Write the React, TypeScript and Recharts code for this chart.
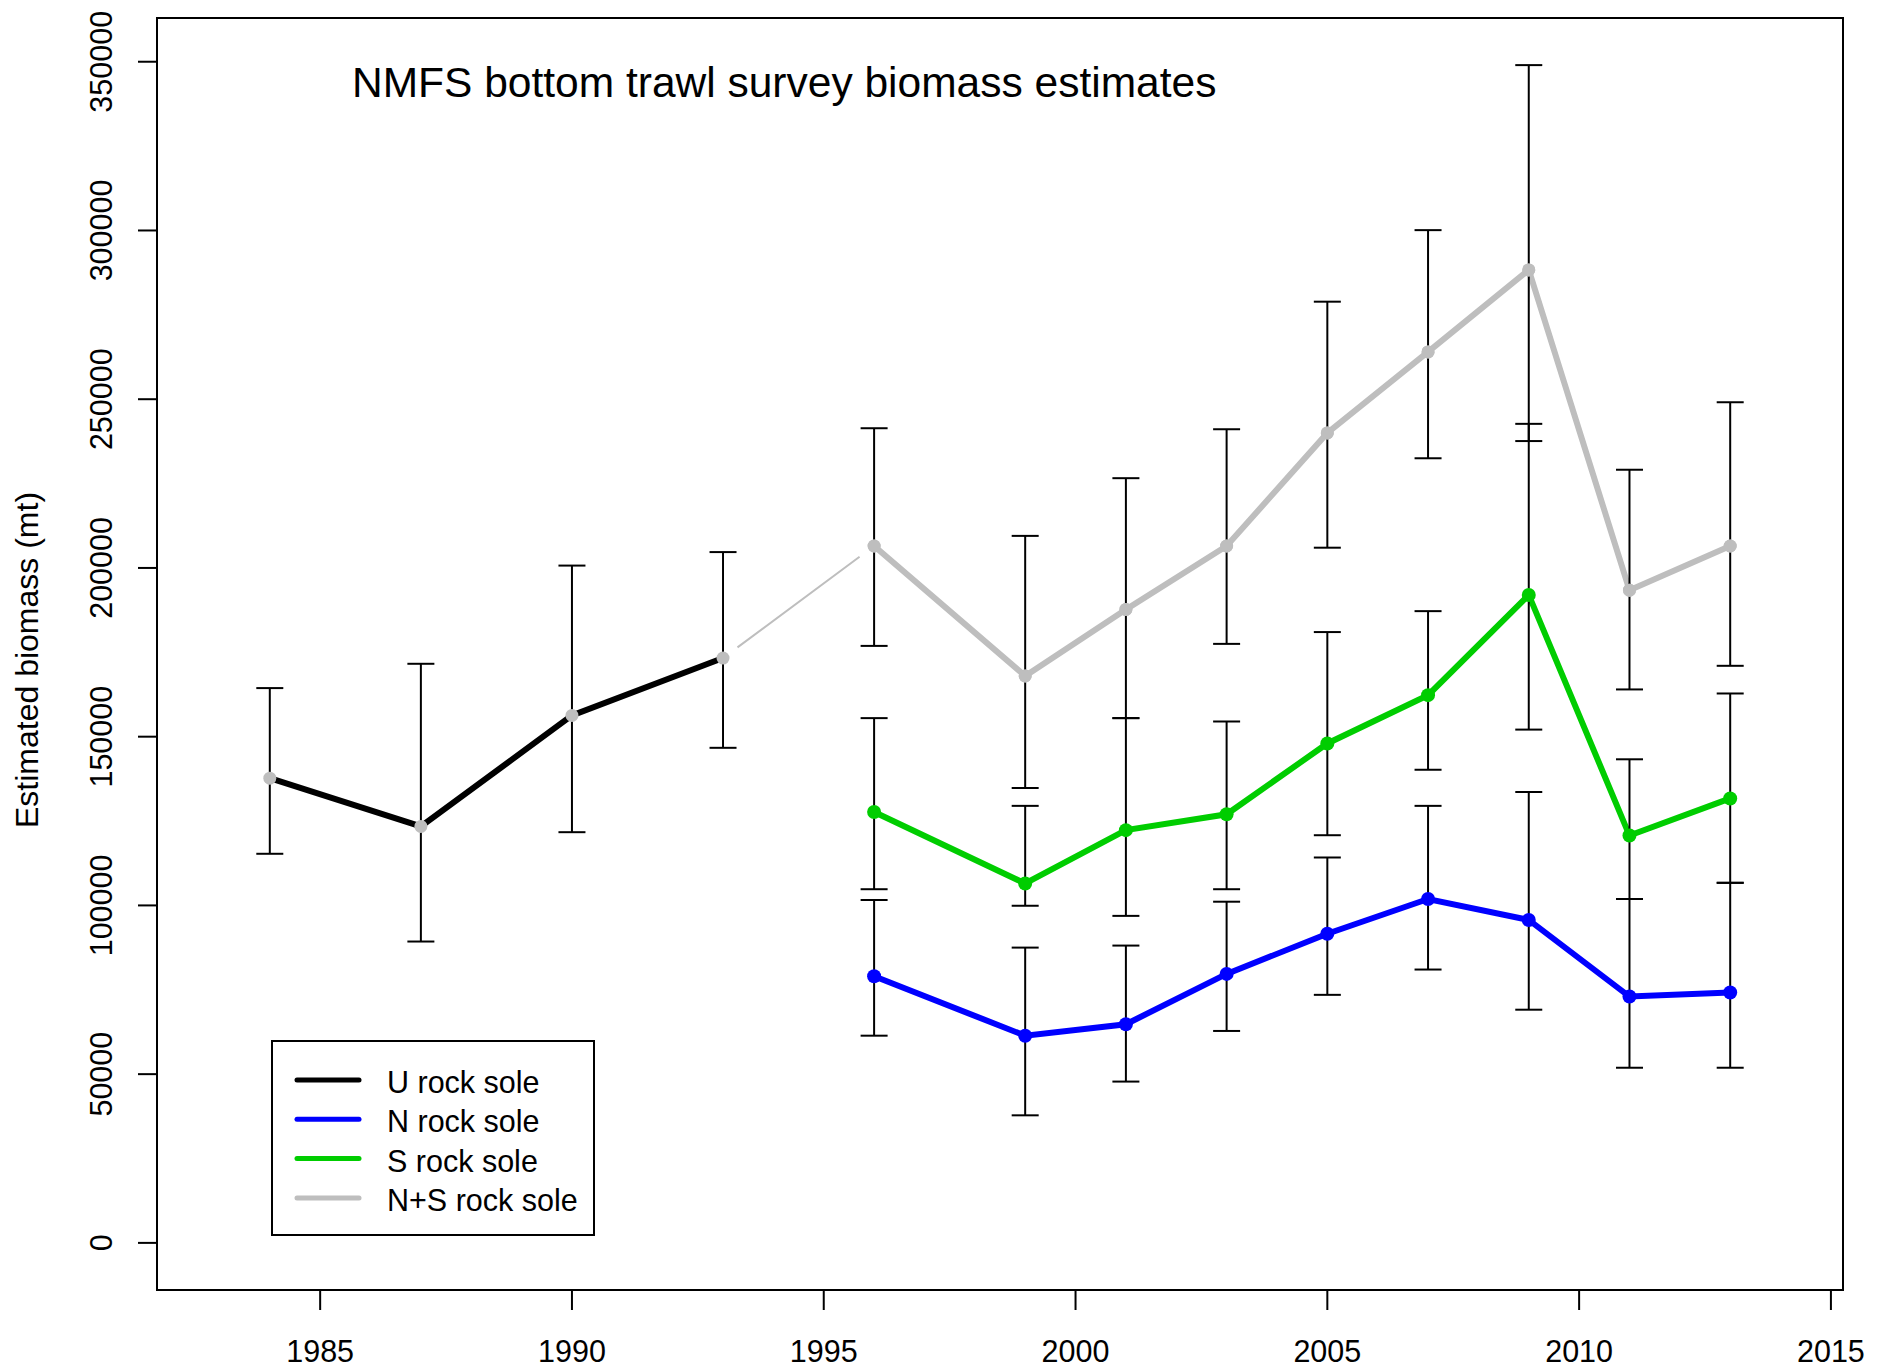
import React from 'react';
import { LineChart, Line, XAxis, YAxis, ErrorBar, ReferenceArea, Legend, Customized } from 'recharts';

// ---- data ----
const yearsU = [1984, 1987, 1990, 1993];
const valU = [137700, 123400, 156300, 173300];
const loU = [115300, 89300, 121700, 146700];
const hiU = [164400, 171600, 200700, 204700];

const yearsNS = [1996, 1999, 2001, 2003, 2005, 2007, 2009, 2011, 2013];
const valNS = [206500, 168000, 187700, 206500, 240000, 264000, 288300, 193400, 206500];
const loNS = [176900, 134800, 155500, 177500, 206000, 232500, 237600, 164000, 171000];
const hiNS = [241400, 209500, 226600, 241100, 278900, 300100, 349000, 229100, 249100];

const valS = [127700, 106500, 122300, 127000, 148000, 162300, 192000, 120700, 131700];
const loS = [104800, 99900, 96900, 104800, 120800, 140200, 152100, 101900, 106700];
const hiS = [155500, 129500, 155500, 154500, 181000, 187200, 242700, 143300, 162800];

const valN = [79000, 61400, 64800, 79700, 91600, 101900, 95700, 73000, 74200];
const loN = [61400, 37800, 47800, 62800, 73500, 81000, 69100, 51900, 51900];
const hiN = [101600, 87500, 88100, 101100, 114200, 129500, 133600, 101900, 106700];

const xTicks = [1985, 1990, 1995, 2000, 2005, 2010, 2015];
const yTicks = [0, 50000, 100000, 150000, 200000, 250000, 300000, 350000];

const legendItems = [
  { label: 'U rock sole', color: '#000000' },
  { label: 'N rock sole', color: '#0000FF' },
  { label: 'S rock sole', color: '#00CD00' },
  { label: 'N+S rock sole', color: '#BEBEBE' },
];

const build = (years: number[], v: number[], lo: number[], hi: number[]) =>
  years.map((y, i) => ({ year: y, value: v[i], err: [v[i] - lo[i], hi[i] - v[i]] }));

const dU = build(yearsU, valU, loU, hiU);
const dNS = build(yearsNS, valNS, loNS, hiNS);
const dS = build(yearsNS, valS, loS, hiS);
const dN = build(yearsNS, valN, loN, hiN);
const dAll = [...dU, ...dNS];
// thin connector between last U point and first N+S point (type "b" style, gaps at points)
const dBridge = [dU[dU.length - 1], dNS[0]];

const FONT = '"Liberation Sans", Arial, sans-serif';
const X_DOMAIN: [number, number] = [1981.76, 2015.24];
const Y_DOMAIN: [number, number] = [-13960, 362960];

const YTick = (props: any) => {
  const { x, y, payload } = props;
  return (
    <text x={x} y={y} transform={`rotate(-90 ${x} ${y})`} textAnchor="middle"
      fontFamily={FONT} fontSize={30.5} fill="#000">{payload.value}</text>
  );
};

const Texts = () => (
  <g>
    <text x={352} y={96.5} fontFamily={FONT} fontSize={42.5} fill="#000">NMFS bottom trawl survey biomass estimates</text>
    <text x={38} y={660} transform="rotate(-90 38 660)" textAnchor="middle"
      fontFamily={FONT} fontSize={32} fill="#000">Estimated biomass (mt)</text>
  </g>
);

const LegendBox = () => (
  <div style={{ width: 324, height: 196, border: '2px solid #000', boxSizing: 'border-box', background: '#fff' }}>
    <svg width={320} height={192} style={{ display: 'block' }}>
      {legendItems.map((it, i) => (
        <g key={it.label}>
          <line x1={24} x2={86} y1={38 + i * 39.3} y2={38 + i * 39.3} stroke={it.color} strokeWidth={5} strokeLinecap="round" />
          <text x={114} y={51 + i * 39.3} fontFamily={FONT} fontSize={30.5} fill="#000">{it.label}</text>
        </g>
      ))}
    </svg>
  </div>
);

export default function App() {
  return (
    <div>
      <style>{`body{margin:0}`}</style>
      <LineChart width={1891} height={1369} margin={{ top: 18, right: 48, bottom: 0, left: 0 }}>
        <XAxis type="number" dataKey="year" domain={X_DOMAIN} ticks={xTicks} allowDataOverflow
          height={79} tickSize={20} tickMargin={30} interval={0}
          tick={{ fontFamily: FONT, fontSize: 30.5, fill: '#000' }}
          tickLine={{ stroke: '#000', strokeWidth: 2 }} axisLine={{ stroke: '#000', strokeWidth: 2 }} />
        <YAxis type="number" dataKey="value" domain={Y_DOMAIN} ticks={yTicks} allowDataOverflow
          width={157} tickSize={19} tickMargin={26} interval={0} tick={<YTick />}
          tickLine={{ stroke: '#000', strokeWidth: 2 }} axisLine={{ stroke: '#000', strokeWidth: 2 }} />
        <ReferenceArea x1={X_DOMAIN[0]} x2={X_DOMAIN[1]} y1={Y_DOMAIN[0]} y2={Y_DOMAIN[1]}
          fill="none" stroke="#000" strokeWidth={2} fillOpacity={0} />
        <Line data={dBridge} dataKey="value" stroke="#BEBEBE" strokeWidth={2} isAnimationActive={false}
          strokeDasharray="0 18 152 60" dot={false} activeDot={false} legendType="none" />
        <Line data={dAll} dataKey="value" stroke="none" strokeWidth={0} isAnimationActive={false}
          dot={{ r: 6.5, fill: '#BEBEBE', stroke: 'none' }} activeDot={false} legendType="none" />
        <Line data={dNS} dataKey="value" stroke="#BEBEBE" strokeWidth={6} isAnimationActive={false}
          dot={{ r: 6.5, fill: '#BEBEBE', stroke: 'none' }} activeDot={false} legendType="none" />
        <Line data={dU} dataKey="value" stroke="#000000" strokeWidth={6} isAnimationActive={false}
          dot={false} activeDot={false} legendType="none" />
        <Line data={dS} dataKey="value" stroke="#00CD00" strokeWidth={6} isAnimationActive={false}
          dot={{ r: 7, fill: '#00CD00', stroke: 'none' }} activeDot={false} legendType="none" />
        <Line data={dN} dataKey="value" stroke="#0000FF" strokeWidth={6} isAnimationActive={false}
          dot={{ r: 7, fill: '#0000FF', stroke: 'none' }} activeDot={false} legendType="none" />
        {[dU, dNS, dS, dN].map((d, i) => (
          <Line key={'eb' + i} data={d} dataKey="value" stroke="none" strokeWidth={0} isAnimationActive={false}
            dot={false} activeDot={false} legendType="none">
            <ErrorBar dataKey="err" direction="y" width={13.5} stroke="#000" strokeWidth={2} isAnimationActive={false} />
          </Line>
        ))}
        <Customized component={Texts} />
        <Legend layout="vertical" align="center" verticalAlign="middle" content={<LegendBox />}
          wrapperStyle={{ position: 'absolute', left: 271, top: 1040, width: 324, height: 196 }} />
      </LineChart>
    </div>
  );
}
